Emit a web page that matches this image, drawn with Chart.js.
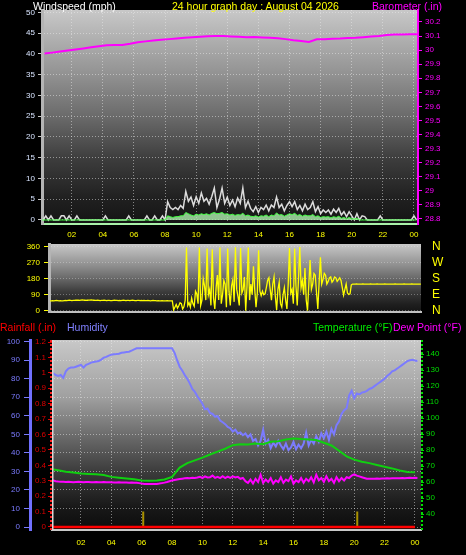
<!DOCTYPE html>
<html lang="en">
<head>
<meta charset="UTF-8">
<title>24 hour graph day : August 04 2026</title>
<script src="https://cdn.jsdelivr.net/npm/chart.js"></script>
<style>
    * { margin: 0; padding: 0; box-sizing: border-box; }
    body {
        width: 466px;
        height: 555px;
        background: #000;
        position: relative;
        overflow: hidden;
        font-family: 'Liberation Sans', Arial, sans-serif;
    }
    canvas { position: absolute; left: 0; }
    #windChart { top: 0; }
    #dirChart { top: 238px; }
    #climateChart { top: 318px; }
    .label {
        position: absolute;
        font-size: 10.5px;
        line-height: 12px;
        white-space: nowrap;
        z-index: 2;
    }
</style>
</head>
<body>
    <div class="label" style="left:33px; top:0; color:#fff;">Windspeed (mph)</div>
    <div class="label" style="left:172px; top:0; color:#ffff00;">24 hour graph day : August 04 2026</div>
    <div class="label" style="left:372px; top:0; color:#ff00ff;">Barometer (.in)</div>

    <div class="label" style="left:0; top:321px; color:#ff0000;">Rainfall (.in)</div>
    <div class="label" style="left:67px; top:321px; color:#8080ff;">Humidity</div>
    <div class="label" style="left:313px; top:321px; color:#00ee00;">Temperature (°F)</div>
    <div class="label" style="left:393px; top:321px; color:#ff00ff;">Dew Point (°F)</div>

    <canvas id="windChart" width="466" height="245"></canvas>
    <canvas id="dirChart" width="466" height="80"></canvas>
    <canvas id="climateChart" width="466" height="237"></canvas>

<script>
// ---- data (hours of the day on x) ----
const hourTicks = [2, 4, 6, 8, 10, 12, 14, 16, 18, 20, 22, 24];
const windTicks = [0, 5, 10, 15, 20, 25, 30, 35, 40, 45, 50];
const baroTicks = [28.8, 28.9, 29, 29.1, 29.2, 29.3, 29.4, 29.5, 29.6, 29.7, 29.8, 29.9, 30, 30.1, 30.2];
const dirTicks = [0, 90, 180, 270, 360];
const compass = { 0: 'N', 90: 'E', 180: 'S', 270: 'W', 360: 'N' };
const humTicks = [0, 10, 20, 30, 40, 50, 60, 70, 80, 90, 100];
const rainTicks = [0, 0.1, 0.2, 0.3, 0.4, 0.5, 0.6, 0.7, 0.8, 0.9, 1, 1.1, 1.2];
const tempTicks = [40, 50, 60, 70, 80, 90, 100, 110, 120, 130, 140];

// 10 minute samples from 00:00
const tenMin = 1 / 6;
const windGust = [
    0, 0, 1, 0, 1, 0, 0, 0, 1, 1, 0, 1,
    0, 0, 1, 0, 0, 0, 0, 0, 0, 0, 0, 0,
    0, 1, 0, 0, 0, 0, 0, 0, 0, 0, 1, 0,
    0, 0, 0, 0, 0, 1, 0, 0, 1, 0, 0, 1,
    0, 4.4, 3, 2.5, 3, 2.5, 3.5, 2.8, 6.9, 4.5, 5.5, 3.5,
    5.6, 4, 6.5, 4.5, 5.2, 3.8, 5.6, 7.7, 3, 5, 7.7, 4,
    5.5, 3.5, 4.8, 3.2, 5.3, 4, 7.7, 3, 4.5, 2.8, 2, 3.2,
    1.8, 3, 2.5, 3.6, 2.2, 3.6, 3, 5.5, 3, 3.8, 2.2, 3.5,
    4.4, 3.2, 4.4, 2.5, 3.5, 2.2, 3.8, 2.5, 3, 4.4, 2, 3.2,
    1.5, 2.4, 1.8, 2.4, 1.4, 2.6, 1.8, 2.8, 1.2, 2, 0.8, 2,
    1, 0, 1.5, 0, 1, 0.8, 0, 0, 0, 0, 0, 1,
    0, 0, 0, 0, 0, 0, 0, 0, 0, 0, 0, 0,
    1, 0
];
const windSpeed = [
    0, 0, 0, 0, 0, 0, 0, 0, 0, 0, 0, 0,
    0, 0, 0, 0, 0, 0, 0, 0, 0, 0, 0, 0,
    0, 0, 0, 0, 0, 0, 0, 0, 0, 0, 0, 0,
    0, 0, 0, 0, 0, 0, 0, 0, 0, 0, 0, 0,
    0, 1, 0.8, 0.6, 0.8, 0.8, 1, 1, 1.8, 1.5, 1.2, 1,
    1.4, 1.2, 1.5, 1.3, 1.5, 1.2, 1.6, 1.8, 1.5, 1.6, 1.8, 1.4,
    1.5, 1.2, 1.4, 1.1, 1.3, 1.2, 1.6, 1, 1.2, 0.9, 0.8, 1,
    0.7, 1, 0.9, 1.2, 0.8, 1.2, 1, 1.7, 1.2, 1.3, 0.9, 1.2,
    1.5, 1.3, 1.6, 1.1, 1.3, 0.9, 1.2, 1, 1, 1.3, 0.8, 1,
    0.6, 0.8, 0.7, 0.8, 0.5, 0.8, 0.6, 0.9, 0.4, 0.6, 0.3, 0.6,
    0.3, 0.2, 0.4, 0, 0, 0, 0, 0, 0, 0, 0, 0,
    0, 0, 0, 0, 0, 0, 0, 0, 0, 0, 0, 0,
    0, 0
];

// barometer, half hour samples from 00:15
const baroStart = 0.25;
const baroStep = 0.5;
const barometer = [
    29.975, 29.982, 29.99, 29.997, 30.005, 30.012, 30.02, 30.028, 30.035, 30.036,
    30.037, 30.045, 30.055, 30.062, 30.068, 30.073, 30.078, 30.082, 30.087, 30.091,
    30.095, 30.098, 30.1, 30.1, 30.097, 30.094, 30.092, 30.093, 30.09, 30.088,
    30.084, 30.078, 30.07, 30.064, 30.058, 30.077, 30.077, 30.08, 30.082, 30.086,
    30.088, 30.092, 30.096, 30.1, 30.108, 30.11, 30.11, 30.112, 30.112
];

// wind direction (degrees), 5 minute samples, one row per hour
const fiveMin = 1 / 12;
const windDir = [
    56, 56, 57, 56, 57, 58, 57, 56, 57, 56, 56, 57,
    58, 57, 58, 59, 58, 57, 58, 58, 59, 60, 59, 58,
    60, 61, 60, 59, 58, 59, 60, 60, 61, 60, 59, 58,
    58, 59, 58, 57, 58, 58, 59, 58, 57, 58, 58, 57,
    57, 58, 59, 58, 58, 57, 58, 57, 58, 59, 58, 57,
    58, 58, 57, 58, 59, 58, 57, 57, 58, 58, 57, 58,
    57, 58, 57, 57, 58, 57, 56, 57, 58, 57, 57, 56,
    57, 56, 56, 57, 56, 55, 56, 57, 56, 55, 56, 56,
    5, 20, 35, 15, 28, 45, 40, 10, 22, 60, 355, 30,
    45, 20, 70, 40, 25, 110, 95, 40, 355, 30, 60, 180,
    140, 60, 350, 90, 120, 30, 345, 70, 10, 130, 200, 60,
    355, 40, 90, 170, 150, 20, 350, 110, 30, 140, 175, 50,
    356, 120, 80, 30, 352, 100, 120, 190, 0, 140, 355, 60,
    150, 90, 250, 120, 20, 100, 340, 110, 85, 110, 90, 95,
    130, 170, 185, 120, 60, 150, 190, 80, 5, 120, 160, 40,
    20, 90, 130, 60, 10, 150, 352, 100, 120, 40, 350, 140,
    30, 180, 358, 130, 170, 90, 240, 60, 0, 150, 285, 120,
    150, 210, 200, 100, 10, 160, 300, 150, 175, 210, 200, 150,
    165, 185, 190, 160, 170, 190, 185, 165, 175, 185, 170, 130,
    88, 120, 150, 100, 92, 95, 145, 150, 150, 150, 151, 150,
    150, 150, 150, 151, 150, 150, 150, 150, 150, 151, 150, 150,
    150, 150, 151, 150, 150, 150, 150, 150, 151, 150, 150, 150,
    150, 150, 150, 150, 151, 150, 150, 150, 150, 150, 150, 151,
    150, 150, 150, 150, 150, 151, 150, 150, 150, 150, 150, 150,
    150
];

const humidity = [
    83, 83, 82, 81.5, 82, 80.5, 84, 85.5, 86, 86, 86.5, 87,
    87.5, 86, 87.5, 88, 88.7, 89, 89.3, 89.6, 90.3, 91.4, 91.8, 92.5,
    93, 93.2, 93.3, 93.5, 94, 94.2, 94.4, 94.6, 95.2, 95.8, 96.4, 96.4,
    96.4, 96.4, 96.4, 96.4, 96.4, 96.4, 96.4, 96.4, 96.4, 96.4, 96.4, 96.4,
    96.4, 94, 90, 86.5, 84.5, 82, 80, 77.5, 74.5, 73, 70.5, 68.5,
    66.5, 63.5, 64, 61.5, 61, 59.5, 59.8, 57.5, 56.5, 55.5, 54, 53.3,
    51.5, 52.5, 50.5, 51, 49.5, 50.5, 48.5, 50, 46.5, 47.5, 44, 46.5,
    52.5, 45, 47, 42.5, 45.5, 43.5, 46.5, 44, 42, 45, 41.5, 43,
    46, 42, 44.5, 42.5, 45, 51, 44, 47, 45, 49, 46, 50.5,
    48, 51.5, 47, 53, 50, 55, 57, 61, 63, 64, 71, 73.5,
    69.5, 72, 71.5, 72.5, 72.8, 73.5, 74.5, 75, 76, 77, 78, 79,
    80, 81.5, 82.5, 84, 84.5, 85.5, 86.5, 87.5, 88.5, 89.5, 90, 90.2,
    89.8, 89.6
];

const dewPoint = [
    61.3, 61, 60.5, 60.3, 60.2, 60.2, 60, 60.1, 60, 59.9, 60, 60.1,
    60, 59.9, 60, 60, 59.9, 59.9, 60, 59.9, 59.9, 60, 59.9, 59.8,
    59.8, 59.7, 59.7, 59.8, 59.7, 59.7, 59.7, 59.6, 59.7, 59.6, 59.5, 59.3,
    59, 58.8, 58.8, 58.7, 58.8, 58.8, 58.8, 59, 59.3, 59.6, 60, 60.5,
    61, 61.3, 61.6, 61.9, 62.1, 62.3, 62.5, 62.4, 62.7, 62.5, 62.8, 63.3,
    62.5, 63.5, 62.8, 63, 64, 62.6, 63.2, 62.4, 63.6, 62.5, 63.4, 62.6,
    63.5, 62.8, 63.2, 62, 62.5, 60.5, 59.5, 61.5, 59, 62, 60, 64.5,
    59.5, 61.5, 60, 62.5, 59, 61, 60, 63, 59.5, 61.5, 60.5, 63.5,
    59, 61, 60, 62.5, 59.5, 62, 60.5, 63, 59.8, 64.5, 61, 62.5,
    60, 63.5, 60.5, 62, 59.5, 63, 60.5, 62.5, 61, 63, 62.5, 64,
    64.8, 64, 63.5, 63, 62.5, 62, 62, 62.1, 62, 62.2, 62.1, 62.2,
    62.2, 62.3, 62.2, 62.3, 62.4, 62.3, 62.4, 62.5, 62.4, 62.5, 62.6, 62.5,
    62.6, 62.5
];

// temperature, half hour samples
const tempStep = 0.5;
const temperature = [
    68.1, 67.3, 66.4, 66, 65.3, 65, 64.8, 64.4, 63.2, 62.7,
    62.2, 61.7, 61, 60.8, 61, 61.6, 63.2, 69, 71.8, 73.5,
    75.2, 77.2, 79, 80.8, 83, 83.6, 83.4, 84, 83.6, 85.2,
    85.5, 86.5, 87.2, 86.8, 86.6, 86.2, 84.5, 82.8, 79.5, 76,
    74, 72.7, 71.8, 70.6, 69.5, 68.5, 67.2, 66.2, 66.1
];

// hourly rainfall (in)
const rainfall = [0, 0, 0, 0, 0, 0, 0, 0, 0, 0, 0, 0, 0, 0, 0, 0, 0, 0, 0, 0, 0, 0, 0, 0, 0];
// sunrise / sunset marks
const sunEvents = [6.1, 20.2];
const sunMarkHeight = 0.1;

// ---- helpers ----
const series = (start, step, vals) => vals.map((v, i) => ({ x: start + i * step, y: v }));
const fixTicks = list => scale => { scale.ticks = list.map(v => ({ value: v })); };
const fixWidth = w => scale => { scale.width = w; scale.paddingTop = 0; scale.paddingBottom = 0; };
const fixHeight = h => scale => { scale.height = h; scale.paddingLeft = 0; scale.paddingRight = 0; };
const hourLabel = v => String(v % 24).padStart(2, '0');
const shortNum = v => String(+Number(v).toFixed(1));

Chart.defaults.font.family = "'Liberation Sans', Arial, sans-serif";
Chart.defaults.font.size = 8;

const plotBg = {
    id: 'plotBg',
    beforeDraw(chart, args, opts) {
        const { ctx, chartArea: a } = chart;
        const g = ctx.createLinearGradient(0, a.top, 0, a.bottom);
        opts.stops.forEach(s => g.addColorStop(s[0], s[1]));
        ctx.save();
        ctx.fillStyle = g;
        ctx.fillRect(a.left, a.top, a.right - a.left, a.bottom - a.top);
        ctx.restore();
    }
};

// dotted red / green side rails on the lower panel
const sideRails = {
    id: 'sideRails',
    afterDatasetsDraw(chart) {
        const { ctx, chartArea: a } = chart;
        ctx.save();
        ctx.lineWidth = 2;
        ctx.setLineDash([2, 2]);
        ctx.strokeStyle = '#ff2020';
        ctx.beginPath(); ctx.moveTo(a.left - 1, a.top); ctx.lineTo(a.left - 1, a.bottom); ctx.stroke();
        ctx.strokeStyle = '#00e000';
        ctx.beginPath(); ctx.moveTo(a.right + 1, a.top); ctx.lineTo(a.right + 1, a.bottom); ctx.stroke();
        ctx.setLineDash([]);
        ctx.lineWidth = 1.5;
        ctx.strokeStyle = '#d8d8d8';
        ctx.beginPath(); ctx.moveTo(a.left + 0.75, a.top); ctx.lineTo(a.left + 0.75, a.bottom); ctx.stroke();
        ctx.restore();
    }
};

const gridDotted = 'rgba(235,235,235,0.5)';
const bgStops = [[0, '#c8c8c8'], [0.3, '#929292'], [0.5, '#6a6a6a'], [0.7, '#3c3c3c'], [0.88, '#202020'], [1, '#141414']];

const common = {
    responsive: false,
    animation: false,
    events: [],
    elements: { point: { radius: 0 }, line: { tension: 0 } }
};

// ---- top panel: wind speed and barometer ----
new Chart(document.getElementById('windChart'), {
    type: 'line',
    data: {
        datasets: [
            { data: series(baroStart, baroStep, barometer), yAxisID: 'yBaro', borderColor: '#ff00ff', borderWidth: 2 },
            { data: series(0, tenMin, windSpeed), yAxisID: 'yWind', borderColor: '#40ff40', borderWidth: 1,
              fill: 'origin', backgroundColor: 'rgba(175,240,175,0.8)' },
            { data: series(0, tenMin, windGust), yAxisID: 'yWind', borderColor: '#dcdcdc', borderWidth: 1.5 }
        ]
    },
    options: {
        ...common,
        layout: { padding: { top: 10, left: 0, right: 0, bottom: 0 } },
        plugins: { legend: { display: false }, tooltip: { enabled: false }, plotBg: { stops: bgStops } },
        scales: {
            x: {
                type: 'linear', min: 0.09, max: 24.26,
                afterBuildTicks: fixTicks(hourTicks), afterFit: fixHeight(21),
                ticks: { color: '#ffff00', padding: 6, maxRotation: 0, autoSkip: false, callback: hourLabel },
                grid: { color: gridDotted, drawTicks: false },
                border: { color: '#a8f0a8', width: 2, dash: [1, 2] }
            },
            yWind: {
                position: 'left', min: -0.97, max: 50.6,
                afterBuildTicks: fixTicks(windTicks), afterFit: fixWidth(42),
                ticks: { color: '#d8e4ff', padding: 3, autoSkip: false },
                grid: { color: gridDotted, tickLength: 4, tickColor: '#c8c8c8' },
                border: { color: '#b4b4b4', width: 3, dash: [1, 2] }
            },
            yBaro: {
                position: 'right', min: 28.764, max: 30.285,
                afterBuildTicks: fixTicks(baroTicks), afterFit: fixWidth(48),
                ticks: { color: '#ff00ff', padding: 3, autoSkip: false, callback: shortNum },
                grid: { drawOnChartArea: false, tickLength: 4, tickColor: '#ff00ff' },
                border: { color: '#ff00ff', width: 2 }
            }
        }
    },
    plugins: [plotBg]
});

// ---- middle panel: wind direction ----
new Chart(document.getElementById('dirChart'), {
    type: 'line',
    data: {
        datasets: [
            { data: series(0, fiveMin, windDir), yAxisID: 'yDir', borderColor: '#ffff00', borderWidth: 1.3 }
        ]
    },
    options: {
        ...common,
        layout: { padding: { top: 6, left: 0, right: 0, bottom: 0 } },
        plugins: { legend: { display: false }, tooltip: { enabled: false }, plotBg: { stops: bgStops } },
        scales: {
            x: {
                type: 'linear', min: -0.065, max: 24.01, afterFit: fixHeight(6),
                ticks: { display: false },
                grid: { display: false },
                border: { color: '#c0c0c0', width: 2 }
            },
            yDir: {
                position: 'left', min: -7, max: 375,
                afterBuildTicks: fixTicks(dirTicks), afterFit: fixWidth(49),
                ticks: { color: '#ffff00', padding: 4, autoSkip: false },
                grid: { color: 'rgba(235,235,235,0.35)', tickLength: 5, tickColor: '#ffff00' },
                border: { color: '#b4b4b4', width: 3, dash: [1, 2] }
            },
            yCompass: {
                position: 'right', min: -7, max: 375,
                afterBuildTicks: fixTicks(dirTicks), afterFit: fixWidth(45),
                ticks: { color: '#ffff00', padding: 11, autoSkip: false, font: { size: 12 }, callback: v => compass[v] },
                grid: { display: false, drawTicks: false },
                border: { display: false }
            }
        }
    },
    plugins: [plotBg]
});

// ---- bottom panel: rain, humidity, temperature, dew point ----
const sunMarks = [];
sunEvents.forEach(h => {
    sunMarks.push({ x: h, y: 0 }, { x: h, y: sunMarkHeight }, { x: h, y: NaN });
});

new Chart(document.getElementById('climateChart'), {
    type: 'line',
    data: {
        datasets: [
            { data: series(0, 1, rainfall), yAxisID: 'yRain', borderColor: '#ff0000', borderWidth: 2.5 },
            { data: sunMarks, yAxisID: 'yRain', borderColor: '#a89000', borderWidth: 2, spanGaps: false },
            { data: series(0, tempStep, temperature), yAxisID: 'yTemp', borderColor: '#10d010', borderWidth: 2 },
            { data: series(0, tenMin, dewPoint), yAxisID: 'yTemp', borderColor: '#ff00ff', borderWidth: 2 },
            { data: series(0, tenMin, humidity), yAxisID: 'yHum', borderColor: '#7b7bff', borderWidth: 2 }
        ]
    },
    options: {
        ...common,
        layout: { padding: { top: 22, left: 0, right: 0, bottom: 0 } },
        plugins: {
            legend: { display: false }, tooltip: { enabled: false },
            plotBg: { stops: [[0, '#c8c8c8'], [0.3, '#a0a0a0'], [0.5, '#6c6c6c'], [0.7, '#3a3a3a'], [0.88, '#181818'], [1, '#0c0c0c']] }
        },
        scales: {
            x: {
                type: 'linear', min: 0.09, max: 24.4,
                afterBuildTicks: fixTicks(hourTicks), afterFit: fixHeight(25),
                ticks: { color: '#ffff00', padding: 8, maxRotation: 0, autoSkip: false, callback: hourLabel },
                grid: { color: gridDotted, drawTicks: false },
                border: { color: '#c8c8c8', width: 2, dash: [1, 2] }
            },
            yHum: {
                position: 'left', weight: 10, min: -1.6, max: 100.9,
                afterBuildTicks: fixTicks(humTicks), afterFit: fixWidth(30),
                ticks: { color: '#7b7bff', padding: 4, autoSkip: false },
                grid: { color: gridDotted, tickLength: 6, tickColor: '#7b7bff' },
                border: { color: '#7070ff', width: 3, dash: [1, 2] }
            },
            yRain: {
                position: 'left', weight: 0, min: -0.0195, max: 1.213,
                afterBuildTicks: fixTicks(rainTicks), afterFit: fixWidth(22),
                ticks: { color: '#dd0000', padding: 2, autoSkip: false, callback: shortNum },
                grid: { drawOnChartArea: false, tickLength: 4, tickColor: '#dd0000' },
                border: { display: false }
            },
            yTemp: {
                position: 'right', min: 30, max: 148.75,
                afterBuildTicks: fixTicks(tempTicks), afterFit: fixWidth(45),
                ticks: { color: '#00dd00', padding: 2, autoSkip: false },
                grid: { drawOnChartArea: false, tickLength: 3, tickColor: '#00dd00' },
                border: { display: false }
            }
        }
    },
    plugins: [plotBg, sideRails]
});
</script>
</body>
</html>
